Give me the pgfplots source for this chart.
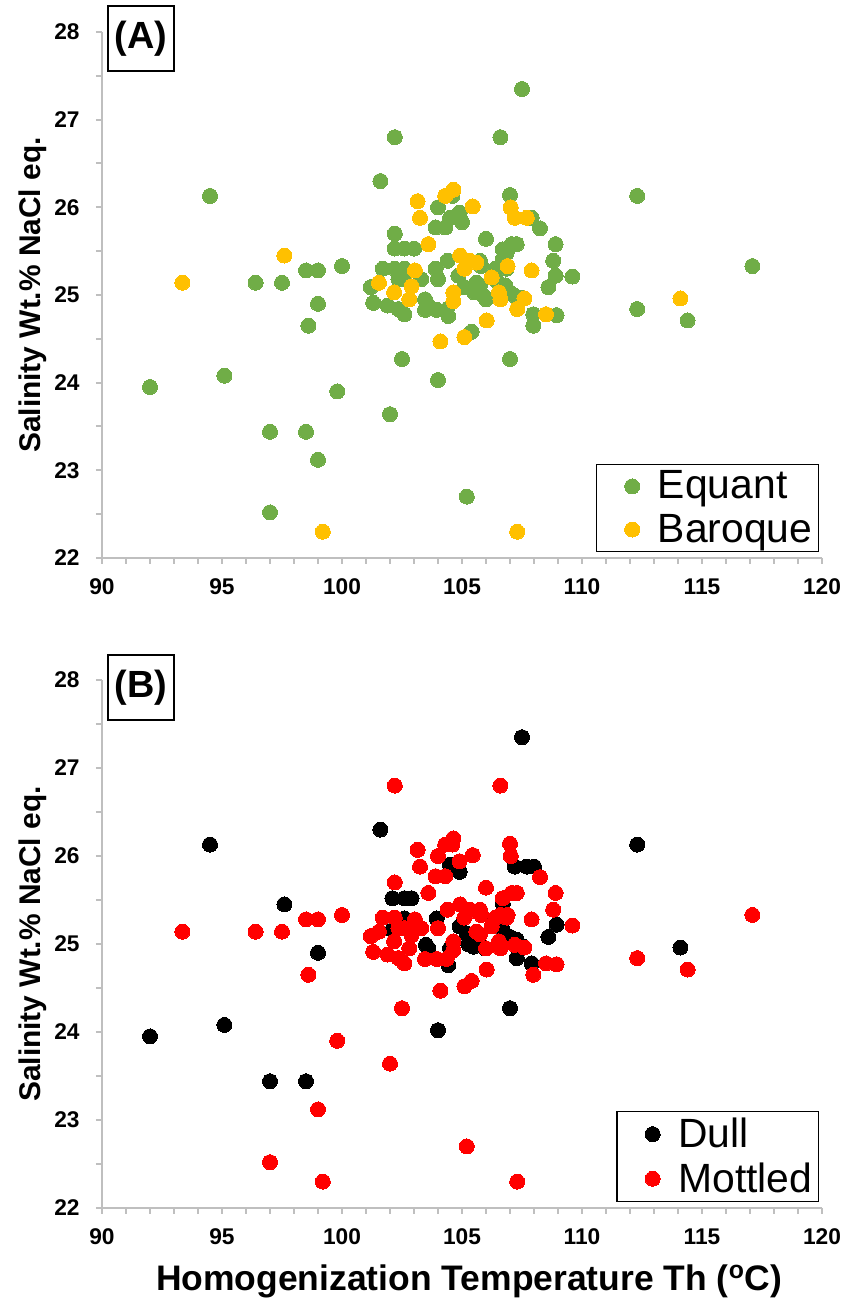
\documentclass[border=0pt]{standalone}
\usepackage{fontspec}
\setmainfont{Liberation Sans}
\usepackage{pgfplots}
\pgfplotsset{compat=1.18}
\definecolor{eqgreen}{HTML}{70AD47}
\definecolor{baryel}{HTML}{FFC000}
\definecolor{axgray}{HTML}{BFBFBF}
\definecolor{mred}{HTML}{FF0000}

\pgfplotsset{
 myaxis/.style={
  scale only axis, width=360bp,
  xmin=90,xmax=120,ymin=22,ymax=28,
  axis lines=left, axis line style={-, draw=axgray, line width=1bp},
  tick style={draw=axgray, line width=1bp},
  tick align=outside, major tick length=3bp, minor tick length=3bp,
  xtick={90,95,...,120}, minor x tick num=4,
  ytick={22,23,...,28}, minor y tick num=1,
  ticklabel style={font=\bfseries\fontsize{11.4}{13}\selectfont},
  /pgf/number format/assume math mode=true,
  xticklabel style={inner sep=0pt, anchor=north, yshift=-7bp},
  yticklabel style={inner sep=0pt, anchor=east, xshift=-8bp},
  ylabel={Salinity Wt.\% NaCl eq.},
  ylabel style={at={(rel axis cs:-0.086,0.5)}, anchor=base, font=\bfseries\fontsize{15}{18}\selectfont},
  clip=false,
  legend style={at={(0.996,0.011)}, anchor=south east, draw=black, line width=0.75bp,
     font=\fontsize{20.5}{22}\selectfont, inner xsep=2bp, inner ysep=2.2bp, row sep=4bp,
     nodes={inner sep=1bp}},
  legend cell align=left,
  legend image code/.code={\path (0bp,0bp) (27bp,0bp); \draw[##1] plot coordinates {(15.5bp,0bp)};},
 },
 pts/.style={only marks, mark=*, mark size=3.75bp, color=#1, mark options={draw=#1, fill=#1, line width=0pt}},
}

\begin{document}
\begin{tikzpicture}
\path[use as bounding box] (0,0) rectangle (421bp,652bp);

% ---------------- Panel A ----------------
\begin{axis}[myaxis, height=263bp, at={(51bp,373bp)}, anchor=south west]
\addplot[pts=eqgreen] coordinates {
(92.0,23.95) (94.5,26.13) (95.1,24.08) (96.4,25.14) (97.5,25.14) (97.0,23.44)
(97.0,22.52) (98.5,25.28) (99.0,25.28) (100.0,25.33) (99.0,24.90) (98.6,24.65)
(99.8,23.90) (98.5,23.44) (99.0,23.12) (101.6,26.30) (102.2,26.80) (106.6,26.80)
(107.5,27.35) (107.0,26.14) (112.3,26.13) (117.1,25.33) (112.3,24.84) (114.4,24.71)
(105.2,22.70) (102.0,23.64) (104.0,24.03) (102.5,24.27) (107.0,24.27) (105.4,24.58)
(104.0,26.00) (104.6,26.13) (104.9,25.94) (104.5,25.88) (103.9,25.77) (104.3,25.77)
(105.0,25.83) (102.2,25.70) (102.2,25.53) (102.6,25.53) (103.0,25.53) (106.0,25.64)
(101.7,25.30) (102.2,25.30) (102.6,25.30) (103.9,25.30) (104.4,25.39) (101.2,25.09)
(102.35,25.18) (102.6,25.18) (103.3,25.18) (104.0,25.18) (104.85,25.22) (105.1,25.09)
(105.5,25.03) (105.9,24.99) (101.3,24.91) (101.9,24.88) (102.35,24.84) (102.6,24.78)
(103.46,24.95) (103.6,24.88) (103.46,24.83) (103.95,24.83) (104.36,24.83) (104.43,24.76)
(107.9,25.88) (108.25,25.76) (107.07,25.58) (107.28,25.58) (106.86,25.48) (106.7,25.41)
(106.6,25.33) (108.9,25.58) (108.8,25.39) (109.6,25.21) (108.9,25.22) (108.6,25.09)
(106.4,25.30) (105.8,25.33) (105.75,25.11) (106.0,24.95) (106.45,25.16) (106.8,25.11)
(107.0,25.03) (107.2,24.99) (107.97,24.78) (107.97,24.65) (108.94,24.77) (105.75,25.39)
(105.6,25.14) (106.7,25.52) (106.86,25.30) (107.5,24.97) (107.3,24.84)
};
\addlegendentry{Equant}
\addplot[pts=baryel] coordinates {
(93.35,25.14) (97.6,25.45) (99.2,22.30) (107.3,22.30) (114.1,24.96) (104.64,26.20)
(104.3,26.13) (103.15,26.07) (105.45,26.01) (103.25,25.88) (103.6,25.58) (104.92,25.45)
(105.33,25.39) (105.1,25.30) (103.04,25.28) (101.54,25.14) (102.17,25.03) (102.9,25.10)
(102.8,24.95) (104.64,25.03) (104.64,24.93) (104.1,24.47) (105.1,24.52) (107.03,26.00)
(107.2,25.88) (107.7,25.88) (106.9,25.33) (107.9,25.28) (106.24,25.20) (106.54,25.03)
(106.6,24.95) (107.6,24.96) (107.3,24.84) (108.5,24.78) (106.03,24.71) (105.6,25.37)
};
\addlegendentry{Baroque}
\node[draw, line width=1bp, inner sep=0pt, minimum width=33bp, minimum height=32.5bp,
  font=\bfseries\fontsize{19}{21}\selectfont] at (rel axis cs:0.054,0.9876) {(A)};
\end{axis}

% ---------------- Panel B ----------------
\begin{axis}[myaxis, height=264bp, at={(51bp,48bp)}, anchor=south west,
  xlabel={Homogenization Temperature Th (\textsuperscript{o}C)},
  xlabel style={at={(rel axis cs:0.51,-0.157)}, anchor=base, font=\bfseries\fontsize{17.8}{20}\selectfont}]
\addplot[pts=black] coordinates {
(92.0,23.95) (94.5,26.13) (95.1,24.08) (97.6,25.45) (99.0,24.90) (97.0,23.44)
(98.5,23.44) (101.6,26.30) (107.5,27.35) (112.3,26.13) (114.1,24.96) (104.0,24.02)
(107.0,24.27) (104.5,25.90) (104.9,25.82) (107.2,25.88) (107.7,25.88) (108.0,25.88)
(102.1,25.52) (102.6,25.52) (102.9,25.52) (103.95,25.29) (102.6,25.29) (102.1,25.16)
(104.9,25.20) (105.2,25.12) (105.26,25.00) (105.47,24.97) (103.5,24.99) (103.6,24.95)
(104.5,24.95) (104.43,24.76) (105.96,24.95) (106.7,25.46) (106.3,25.23) (106.7,25.16)
(107.0,25.08) (107.28,25.05) (107.55,24.97) (107.28,24.84) (107.9,24.78) (108.94,25.22)
(108.6,25.08)
};
\addlegendentry{Dull\vphantom{Eq}}
\addplot[pts=mred] coordinates {
(96.4,25.14) (97.5,25.14) (97.0,22.52) (98.5,25.28) (99.0,25.28) (100.0,25.33)
(98.6,24.65) (99.8,23.90) (99.0,23.12) (102.2,26.80) (106.6,26.80) (107.0,26.14)
(117.1,25.33) (112.3,24.84) (114.4,24.71) (105.2,22.70) (102.0,23.64) (102.5,24.27)
(105.4,24.58) (104.0,26.00) (104.6,26.13) (104.9,25.94) (103.9,25.77) (104.3,25.77)
(102.2,25.70) (106.0,25.64) (101.7,25.30) (102.2,25.30) (104.4,25.39) (101.2,25.09)
(102.35,25.18) (102.6,25.18) (103.3,25.18) (104.0,25.18) (101.3,24.91) (101.9,24.88)
(102.35,24.84) (102.6,24.78) (103.46,24.83) (103.95,24.83) (104.36,24.83) (108.25,25.76)
(107.07,25.58) (107.28,25.58) (106.6,25.33) (108.9,25.58) (108.8,25.39) (109.6,25.21)
(106.4,25.30) (105.8,25.33) (105.75,25.11) (106.0,24.95) (107.97,24.65) (108.94,24.77)
(105.75,25.39) (105.6,25.14) (106.7,25.52) (106.86,25.30) (107.2,24.99)
(93.35,25.14) (99.2,22.30) (107.3,22.30) (104.64,26.20) (104.3,26.13) (103.15,26.07)
(105.45,26.01) (103.25,25.88) (103.6,25.58) (104.92,25.45) (105.33,25.39) (105.1,25.30)
(103.04,25.28) (101.54,25.14) (102.17,25.03) (102.9,25.10) (102.8,24.95) (104.64,25.03)
(104.64,24.93) (104.1,24.47) (105.1,24.52) (107.03,26.00) (106.9,25.33) (107.9,25.28)
(106.24,25.20) (106.54,25.03) (106.6,24.95) (107.6,24.96) (108.5,24.78) (106.03,24.71)
(105.6,25.37)
};
\addlegendentry{Mottled\vphantom{Eq}}
\node[draw, line width=1bp, inner sep=0pt, minimum width=33bp, minimum height=32.5bp,
  font=\bfseries\fontsize{19}{21}\selectfont] at (rel axis cs:0.054,0.9858) {(B)};
\end{axis}
\end{tikzpicture}
\end{document}
